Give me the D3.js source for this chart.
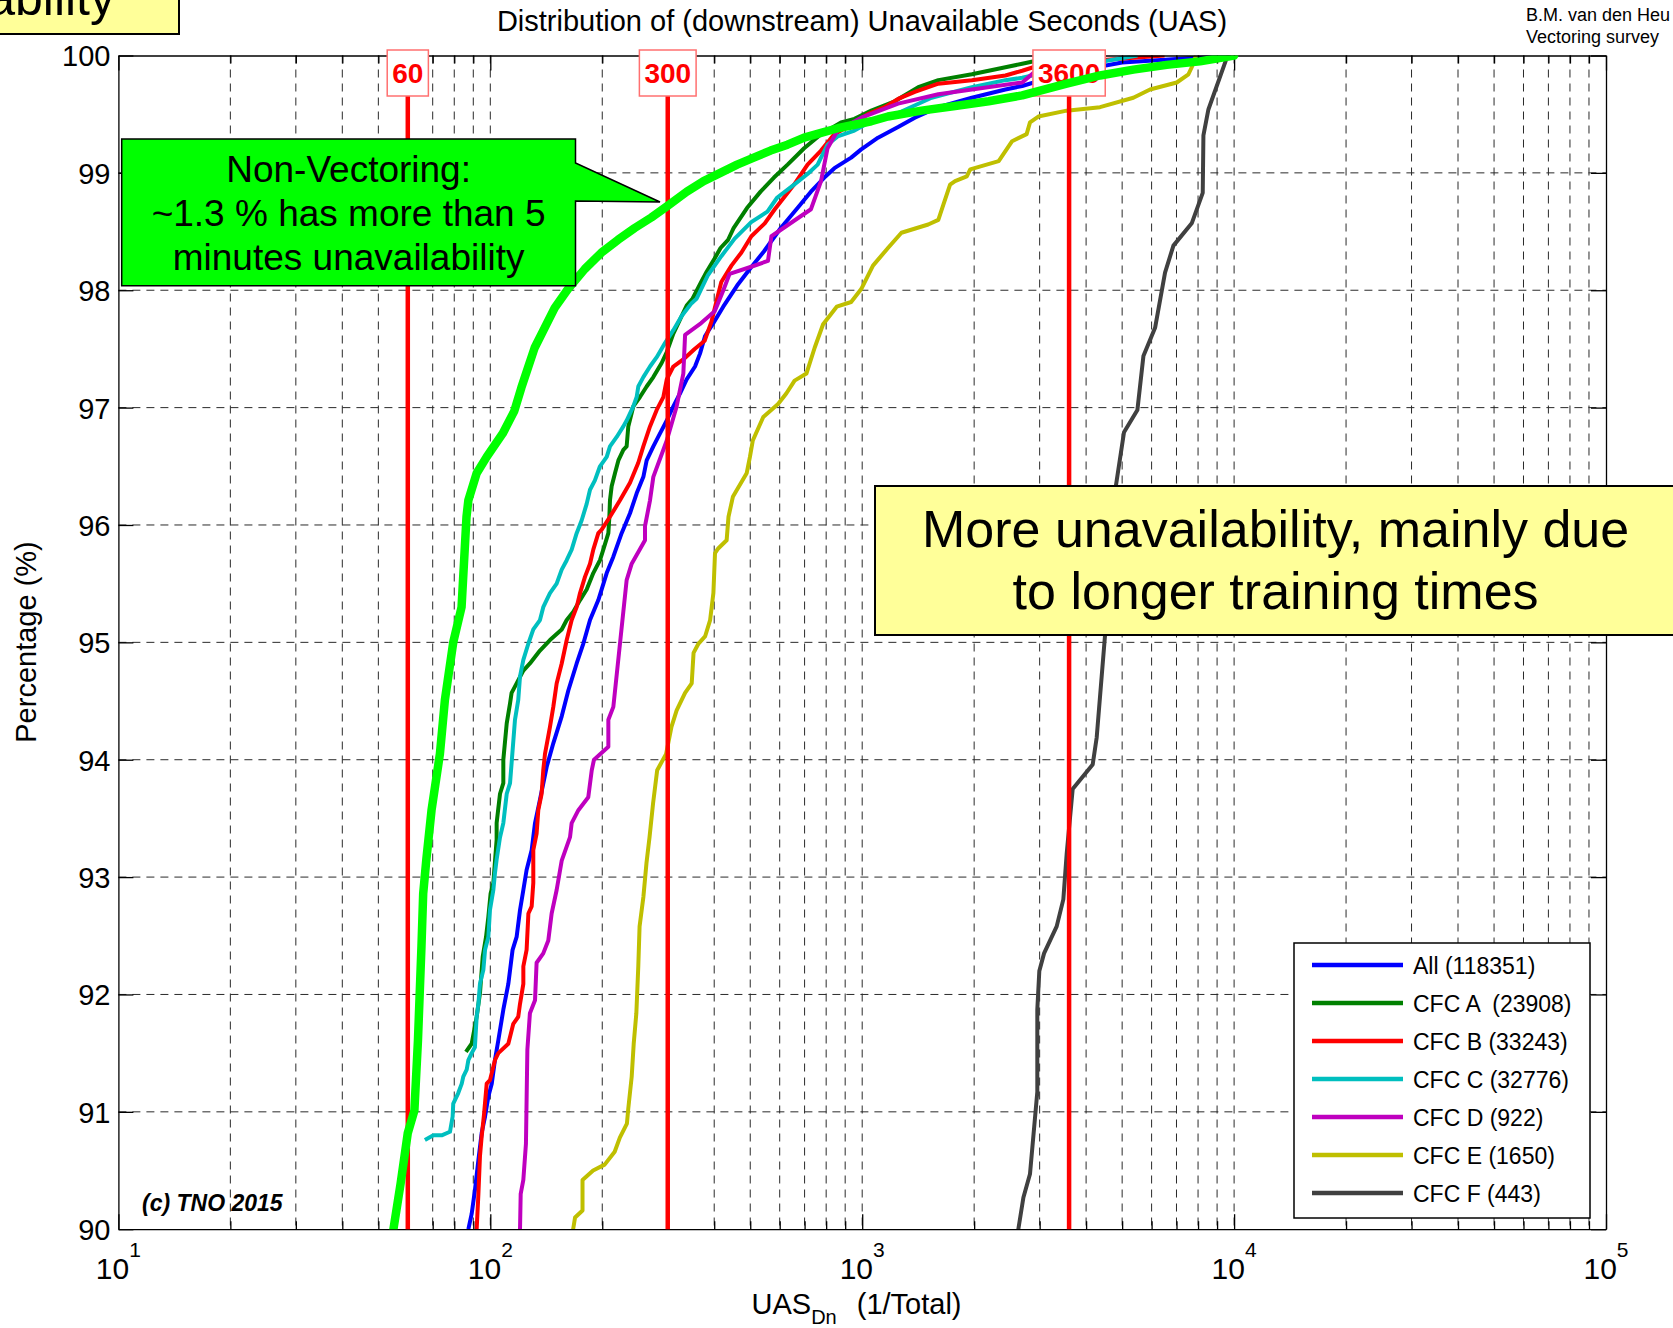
<!DOCTYPE html>
<html>
<head>
<meta charset="utf-8">
<script src="https://cdn.jsdelivr.net/npm/d3@7"></script>
<style>
  body { margin: 0; background: #fff; }
  svg { display: block; }
  text { font-family: "Liberation Sans", Arial, Helvetica, sans-serif; white-space: pre; }
</style>
</head>
<body>
<svg id="chart" width="1673" height="1328"></svg>
<script>
// ---- Data: cumulative distribution of downstream unavailable seconds, [UAS, percentage] ----
const categories = ["All (118351)", "CFC A  (23908)", "CFC B (33243)", "CFC C (32776)", "CFC D (922)", "CFC E (1650)", "CFC F (443)"];

const seriesAll = [[87.3,90.0],[89.1,90.13],[90.9,90.33],[92.9,90.59],[94.8,90.82],[96.8,90.96],[98.8,91.13],[100.9,91.24],[102.9,91.44],[105.1,91.61],[108.4,91.87],[111.8,92.09],[114.8,92.38],[117.7,92.49],[120.2,92.72],[122.7,92.89],[125.2,93.06],[129.2,93.23],[131.9,93.46],[136.0,93.66],[141.8,93.94],[147.7,94.14],[155.6,94.37],[162.1,94.59],[170.7,94.82],[177.9,94.99],[185.4,95.19],[195.2,95.36],[205.6,95.59],[214.2,95.73],[225.5,95.93],[237.5,96.10],[247.5,96.27],[258,96.41],[263.3,96.55],[274.4,96.67],[286,96.78],[298.2,96.89],[310.6,97.01],[323.6,97.12],[337.3,97.24],[355.2,97.35],[366.3,97.46],[378,97.61],[397.8,97.72],[423,97.86],[461,98.04],[501,98.19],[544,98.33],[604,98.53],[670,98.70],[728,98.84],[791,98.96],[842,99.04],[934,99.13],[994,99.2],[1103,99.3],[1249,99.39],[1385,99.47],[1602,99.56],[1972,99.64],[2427,99.71],[2693,99.74],[3500,99.85],[5000,99.94],[9800,100]];

const seriesA = [[86.0,91.51],[89.1,91.58],[91.9,91.81],[93.8,92.01],[95.4,92.32],[97.4,92.49],[98.8,92.66],[100.2,92.86],[101.9,92.95],[104.0,93.32],[104.0,93.46],[106.2,93.71],[108.4,93.80],[108.4,94.0],[110.7,94.31],[113.0,94.48],[114.1,94.57],[117.7,94.65],[122.7,94.76],[127.8,94.82],[136.0,94.93],[144.7,95.02],[155.6,95.11],[160.5,95.19],[167.2,95.26],[174.3,95.36],[181.6,95.45],[189.2,95.59],[197.2,95.70],[201.3,95.79],[207.7,95.93],[209,96.07],[209.8,96.21],[212,96.33],[216.4,96.44],[221,96.55],[227.9,96.64],[232.6,96.67],[235,96.84],[242.4,97.01],[252.6,97.09],[263.3,97.18],[274.4,97.26],[288.9,97.38],[298,97.47],[310.6,97.63],[323.6,97.75],[337.3,97.87],[350,97.93],[369,98.07],[382,98.16],[401,98.27],[416,98.36],[436,98.43],[451,98.53],[490,98.7],[533,98.84],[579,98.96],[630,99.07],[698,99.21],[775,99.33],[877,99.43],[953,99.46],[1058,99.53],[1223,99.61],[1415,99.73],[1602,99.79],[1972,99.84],[2427,99.9],[2693,99.93],[3300,99.99],[4000,100]];

const seriesB = [[91.9,90.0],[92.9,90.3],[93.8,90.62],[94.8,90.79],[96.2,90.98],[97.8,91.24],[99.8,91.27],[102.9,91.44],[105.1,91.5],[111.8,91.58],[115.3,91.75],[118.9,91.81],[120.2,91.92],[122.7,92.09],[122.7,92.24],[125.2,92.38],[126.6,92.69],[129.2,92.75],[130.5,92.95],[130.5,93.23],[133.2,93.37],[134.6,93.57],[137.4,93.71],[138.8,93.91],[140.3,94.05],[144.7,94.28],[147.7,94.45],[150.8,94.65],[155.6,94.82],[160.5,95.02],[165.5,95.19],[170.7,95.30],[174.3,95.42],[179.8,95.56],[185.4,95.67],[189.2,95.79],[195.2,95.93],[199.3,95.96],[209.8,96.07],[223.2,96.21],[237.5,96.36],[250,96.53],[257.9,96.67],[268.8,96.84],[280.2,96.98],[291.9,97.09],[298.2,97.24],[310.6,97.35],[333,97.42],[354.4,97.5],[377,97.57],[393,97.73],[409.6,97.96],[418,98.07],[445,98.21],[473,98.32],[503.5,98.46],[547,98.57],[582,98.69],[656,98.9],[713,99.07],[775,99.19],[842,99.33],[934,99.41],[1036,99.5],[1149,99.56],[1249,99.63],[1385,99.69],[1602,99.76],[1972,99.79],[2427,99.83],[2693,99.87],[2884,99.9],[3600,99.94],[6500,100]];

const seriesC = [[66.7,90.76],[70.3,90.8],[74.0,90.8],[77.9,90.83],[79.2,90.96],[79.5,91.07],[82.0,91.16],[83.8,91.24],[84.6,91.30],[86.4,91.36],[87.3,91.44],[89.1,91.50],[90.9,91.55],[91.9,91.81],[92.9,91.92],[93.8,92.09],[95.8,92.21],[96.8,92.38],[98.8,92.49],[99.8,92.72],[101.9,92.89],[102.9,93.03],[104.0,93.15],[106.2,93.34],[108.4,93.46],[110.7,93.71],[113.0,93.80],[114.8,94.08],[116.5,94.34],[118.9,94.51],[120.2,94.71],[122.7,94.85],[126.6,94.99],[130.5,95.11],[136.0,95.19],[138.8,95.30],[144.7,95.42],[150.8,95.50],[155.6,95.62],[160.5,95.70],[165.5,95.79],[170.7,95.93],[176.1,96.04],[181.6,96.18],[185.4,96.30],[191.1,96.38],[197.2,96.50],[205.6,96.58],[209.8,96.67],[218.7,96.75],[227.9,96.84],[232.6,96.89],[242.4,97.01],[247.5,97.09],[250,97.18],[257.9,97.26],[268.8,97.35],[280.2,97.43],[294.9,97.55],[310.6,97.66],[327,97.78],[347.8,97.89],[359,97.93],[385,98.13],[418,98.29],[454,98.44],[503,98.58],[556,98.67],[591,98.79],[656,98.9],[713,98.99],[759,99.07],[775,99.13],[807,99.24],[859,99.31],[953,99.36],[1058,99.44],[1249,99.51],[1537,99.64],[1972,99.73],[2427,99.79],[2693,99.81],[3600,99.9],[5500,100]];

const seriesD = [[120.2,90.0],[120.7,90.3],[122.7,90.42],[124.7,90.73],[125.2,91.1],[125.8,91.53],[127.8,91.84],[131.9,91.95],[133.2,92.27],[138.8,92.35],[143.2,92.46],[146.2,92.69],[150.8,92.89],[155.6,93.14],[163.8,93.34],[165.5,93.46],[172.5,93.57],[183.4,93.68],[187.4,93.91],[190,94.0],[207.7,94.11],[207.7,94.34],[214.2,94.45],[232.6,95.53],[240,95.67],[260.6,95.87],[260.6,95.99],[268.8,96.21],[274.4,96.41],[298.2,96.72],[317,97.01],[323.6,97.15],[330.4,97.29],[334,97.62],[369,97.72],[401,97.82],[422,97.99],[440,98.14],[503,98.2],[558,98.25],[570,98.46],[728,98.69],[775,98.93],[807,99.21],[859,99.36],[994,99.47],[1249,99.59],[1602,99.67],[1972,99.71],[2693,99.77],[2884,99.85],[3300,99.93],[4000,100]];

const seriesE = [[167,90.0],[169,90.1],[177,90.16],[177,90.42],[189,90.5],[203,90.55],[216,90.66],[223,90.78],[233,90.9],[235,91.03],[240,91.3],[243,91.58],[247,91.84],[250,92.24],[252,92.58],[258,92.83],[263,93.12],[268,93.34],[274,93.63],[281,93.91],[297,94.05],[307,94.28],[317,94.42],[334,94.57],[348,94.65],[352,94.91],[363,94.99],[378,95.05],[390,95.19],[398,95.42],[402,95.76],[410,95.8],[432,95.87],[437,96.07],[449,96.24],[489,96.44],[499,96.58],[508,96.72],[542,96.92],[594,97.03],[625,97.12],[658,97.23],[708,97.29],[745,97.51],[785,97.71],[854,97.86],[934,97.9],[994,98.01],[1069,98.21],[1173,98.36],[1275,98.49],[1505,98.56],[1602,98.6],[1653,98.73],[1723,98.9],[1777,98.93],[1911,98.97],[1952,99.03],[2328,99.1],[2530,99.27],[2768,99.33],[2826,99.43],[2976,99.48],[3546,99.53],[4360,99.56],[5359,99.64],[5943,99.71],[7011,99.77],[7538,99.84],[7693,99.9],[7900,100]];

const seriesF = [[2629,90.0],[2713,90.27],[2826,90.47],[2957,91.17],[2957,91.87],[2994,92.2],[3083,92.35],[3334,92.58],[3474,92.81],[3547,93.2],[3681,93.75],[4167,93.96],[4271,94.19],[4497,95.06],[4650,95.6],[4814,96.34],[5058,96.79],[5495,96.98],[5704,97.44],[6131,97.68],[6521,98.15],[6868,98.38],[7693,98.57],[8235,98.83],[8270,99.32],[8529,99.54],[9556,99.98],[9700,100]];

const nonVectoring = [[54.9,90.0],[57.4,90.39],[60.0,90.82],[62.5,91.01],[63.9,91.61],[65.3,92.41],[66.0,92.86],[67.3,93.15],[69.5,93.57],[73.2,94.05],[75.5,94.51],[79.5,95.0],[83.7,95.30],[86.3,96.07],[87.3,96.21],[91.9,96.44],[97.8,96.58],[108,96.78],[116,96.97],[121.2,97.17],[126.3,97.34],[131.6,97.51],[140,97.68],[149,97.85],[161.8,98.01],[179.4,98.18],[198.9,98.32],[220.5,98.43],[244.5,98.53],[271,98.62],[300,98.72],[337.7,98.84],[374.6,98.93],[415.6,99.0],[461,99.07],[511,99.13],[567,99.19],[629.6,99.24],[698,99.30],[775,99.34],[859,99.38],[953,99.41],[1058,99.44],[1173,99.48],[1444,99.53],[1777,99.57],[2187,99.61],[2693,99.66],[3546,99.76],[4360,99.83],[5359,99.88],[6588,99.92],[8100,99.95],[10000,100]];

const seriesList = [seriesAll, seriesA, seriesB, seriesC, seriesD, seriesE, seriesF];
const yTicks = [90, 91, 92, 93, 94, 95, 96, 97, 98, 99, 100];
const xDecades = [10, 100, 1000, 10000, 100000];
const xExponents = ["1", "2", "3", "4", "5"];
const refLines = [60, 300, 3600];
const refLabels = ["60", "300", "3600"];
const calloutGreen = ["Non-Vectoring:", "~1.3 % has more than 5", "minutes unavailability"];
const calloutYellow = ["More unavailability, mainly due", "to longer training times"];

// ---- Styles ----
const lineColors = ["#0000ff", "#008000", "#ff0000", "#00bfbf", "#bf00bf", "#bfbf00", "#404040"];

// ---- Layout ----
const W = 1673, H = 1328;
const L = 118.4, R = 1606, T = 55.5, B = 1229.2;

const svg = d3.select("#chart");
const x = d3.scaleLog().domain([10, 1e5]).range([L, R]);
const y = d3.scaleLinear().domain([90, 100]).range([B, T]);

svg.append("rect").attr("width", W).attr("height", H).attr("fill", "#fff");
svg.append("defs").append("clipPath").attr("id", "plotClip")
  .append("rect").attr("x", L).attr("y", T).attr("width", R - L).attr("height", B - T);

// grid: every 1..9 multiple of each decade, every whole percent
const gridX = [];
[10, 100, 1000, 10000].forEach(d => { for (let m = 1; m < 10; m++) gridX.push(d * m); });
const minorX = gridX.filter(v => !xDecades.includes(v));

const grid = svg.append("g").attr("stroke", "#2a2a2a").attr("stroke-width", 1).attr("stroke-dasharray", "8,6");
grid.selectAll("line.gv").data(gridX.filter(v => v > 10)).join("line").attr("class", "gv")
  .attr("x1", d => x(d)).attr("x2", d => x(d)).attr("y1", T).attr("y2", B);
grid.selectAll("line.gh").data(yTicks.filter(v => v > 90 && v < 100)).join("line").attr("class", "gh")
  .attr("x1", L).attr("x2", R).attr("y1", d => y(d)).attr("y2", d => y(d));

// CFC curves
const line = d3.line().x(d => x(d[0])).y(d => y(d[1]));
const curves = svg.append("g").attr("clip-path", "url(#plotClip)");
curves.selectAll("path").data(seriesList).join("path")
  .attr("d", line).attr("fill", "none")
  .attr("stroke", (d, i) => lineColors[i]).attr("stroke-width", 4)
  .attr("stroke-linejoin", "round");

// axes with inward ticks on all four sides
function styleAxis(g) {
  g.selectAll("path, line").attr("stroke", "#000").attr("stroke-width", 1.3);
  g.attr("font-size", 29).attr("font-family", "Liberation Sans, Arial, sans-serif");
}
svg.append("g").attr("transform", `translate(0,${B})`)
  .call(d3.axisBottom(x).tickValues(xDecades).tickSizeInner(-15).tickSizeOuter(0).tickFormat(""))
  .call(styleAxis);
svg.append("g").attr("transform", `translate(0,${B})`)
  .call(d3.axisBottom(x).tickValues(minorX).tickSizeInner(-8).tickSizeOuter(0).tickFormat(""))
  .call(styleAxis).call(g => g.select(".domain").remove());
svg.append("g").attr("transform", `translate(0,${T})`)
  .call(d3.axisTop(x).tickValues(xDecades).tickSizeInner(-15).tickSizeOuter(0).tickFormat(""))
  .call(styleAxis);
svg.append("g").attr("transform", `translate(0,${T})`)
  .call(d3.axisTop(x).tickValues(minorX).tickSizeInner(-8).tickSizeOuter(0).tickFormat(""))
  .call(styleAxis).call(g => g.select(".domain").remove());
svg.append("g").attr("transform", `translate(${L},0)`)
  .call(d3.axisLeft(y).tickValues(yTicks).tickSizeInner(-15).tickSizeOuter(0).tickPadding(8).tickFormat(d3.format("d")))
  .call(styleAxis)
  .call(g => g.selectAll("text").attr("fill", "#000").attr("dy", "0.36em"));
svg.append("g").attr("transform", `translate(${R},0)`)
  .call(d3.axisRight(y).tickValues(yTicks).tickSizeInner(-15).tickSizeOuter(0).tickFormat(""))
  .call(styleAxis);

// decade labels 10^n
svg.append("g").selectAll("text").data(xDecades).join("text")
  .attr("x", d => x(d)).attr("y", 1279).attr("text-anchor", "middle").attr("font-size", 30)
  .each(function (d, i) {
    const t = d3.select(this);
    t.append("tspan").text("10");
    t.append("tspan").attr("dy", -22).attr("font-size", 21).text(xExponents[i]);
  });

// legend
const lg = svg.append("g");
lg.append("rect").attr("x", 1294).attr("y", 943).attr("width", 296).attr("height", 275)
  .attr("fill", "#fff").attr("stroke", "#000").attr("stroke-width", 1.5);
const rows = lg.selectAll("g.row").data(categories).join("g").attr("class", "row")
  .attr("transform", (d, i) => `translate(0,${965 + i * 38})`);
rows.append("line").attr("x1", 1312).attr("x2", 1403).attr("y1", 0).attr("y2", 0)
  .attr("stroke", (d, i) => lineColors[i]).attr("stroke-width", 4.5);
rows.append("text").attr("x", 1413).attr("y", 8.5).attr("font-size", 23).text(d => d);

// reference lines at 1 min, 5 min and 1 hour
svg.append("g").selectAll("line").data(refLines).join("line")
  .attr("x1", d => x(d)).attr("x2", d => x(d)).attr("y1", T).attr("y2", B)
  .attr("stroke", "#ff0000").attr("stroke-width", 4.5);
const refG = svg.append("g").selectAll("g").data(refLines).join("g");
refG.each(function (d, i) {
  const g = d3.select(this);
  const rect = g.append("rect");
  const t = g.append("text").attr("x", x(d)).attr("y", 83).attr("text-anchor", "middle")
    .attr("font-size", 28).attr("font-weight", "bold").attr("fill", "#ff0000").text(refLabels[i]);
  const w = t.node().getComputedTextLength() + 10;
  rect.attr("x", x(d) - w / 2).attr("y", 50).attr("width", w).attr("height", 46)
    .attr("fill", "#fff").attr("stroke", "#ff7070").attr("stroke-width", 1.5);
});

// non-vectoring curve
svg.append("path").datum(nonVectoring).attr("clip-path", "url(#plotClip)")
  .attr("d", line).attr("fill", "none").attr("stroke", "#00ff00").attr("stroke-width", 8.5)
  .attr("stroke-linejoin", "round").attr("stroke-linecap", "round");

// green callout
svg.append("path")
  .attr("d", "M121.7,139 H575.5 V163 L660,202 L575.5,201 V285.7 H121.7 Z")
  .attr("fill", "#00ff00").attr("stroke", "#000").attr("stroke-width", 1.5);
svg.append("g").selectAll("text").data(calloutGreen).join("text")
  .attr("x", 348.6).attr("y", (d, i) => 181.7 + i * 44).attr("text-anchor", "middle")
  .attr("font-size", 37).text(d => d);

// yellow callouts
svg.append("rect").attr("x", 875).attr("y", 486).attr("width", 802).attr("height", 149)
  .attr("fill", "#ffff99").attr("stroke", "#000").attr("stroke-width", 2);
svg.append("g").selectAll("text").data(calloutYellow).join("text")
  .attr("x", 1275.6).attr("y", (d, i) => 547 + i * 62).attr("text-anchor", "middle")
  .attr("font-size", 52).text(d => d);
svg.append("rect").attr("x", -10).attr("y", -60).attr("width", 189).attr("height", 94)
  .attr("fill", "#ffff99").attr("stroke", "#000").attr("stroke-width", 2);
svg.append("text").attr("x", 115).attr("y", 15).attr("text-anchor", "end").attr("font-size", 50).text("ability");

// titles and labels
svg.append("text").attr("x", 862).attr("y", 31).attr("text-anchor", "middle").attr("font-size", 29)
  .text("Distribution of (downstream) Unavailable Seconds (UAS)");
svg.append("text").attr("x", 1526).attr("y", 21).attr("font-size", 18).text("B.M. van den Heu");
svg.append("text").attr("x", 1526).attr("y", 43).attr("font-size", 18).text("Vectoring survey");
svg.append("text").attr("transform", "translate(36,642) rotate(-90)").attr("text-anchor", "middle")
  .attr("font-size", 29).text("Percentage (%)");
const xl = svg.append("text").attr("x", 856.5).attr("y", 1314).attr("text-anchor", "middle").attr("font-size", 29);
xl.append("tspan").text("UAS");
xl.append("tspan").attr("dy", 10).attr("font-size", 20).text("Dn");
xl.append("tspan").attr("dy", -10).attr("dx", 20).text("(1/Total)");
svg.append("text").attr("x", 142).attr("y", 1211).attr("font-size", 23)
  .attr("font-weight", "bold").attr("font-style", "italic").text("(c) TNO 2015");
</script>
</body>
</html>
